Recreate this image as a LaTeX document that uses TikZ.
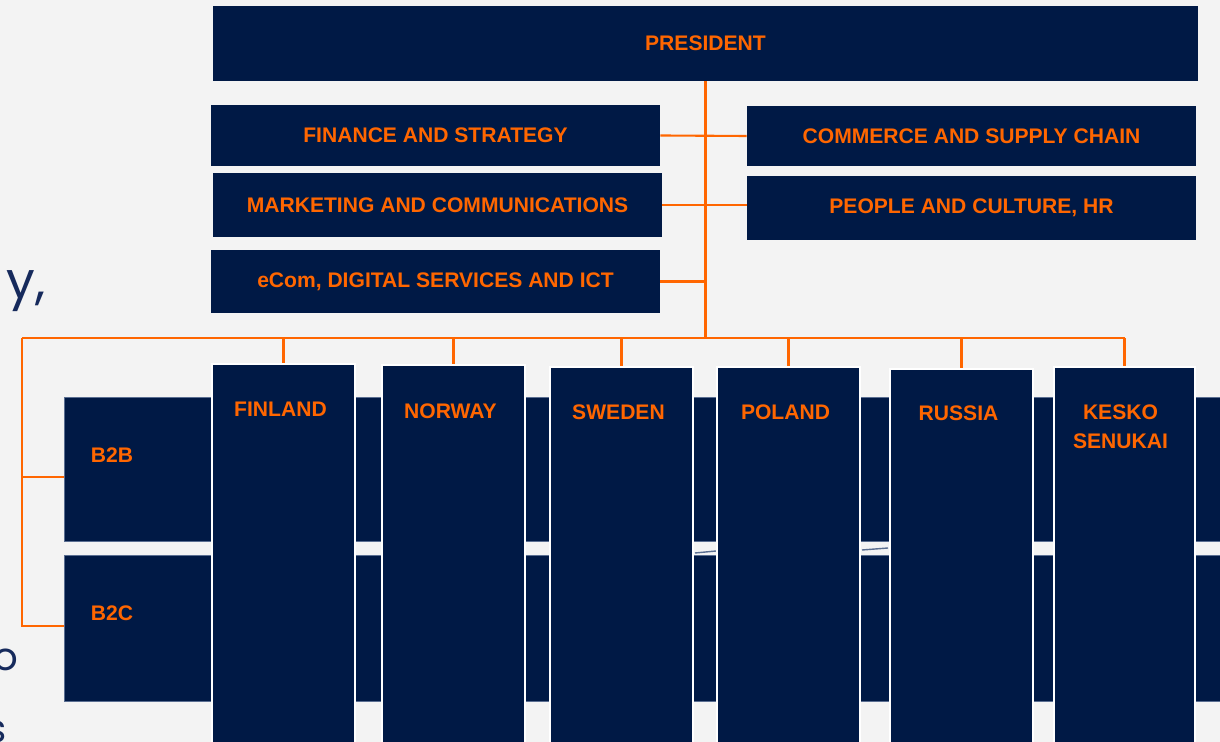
\documentclass[tikz,border=0pt]{standalone}
\usepackage{fontspec}
\setmainfont{Liberation Sans}
\newfontfamily\fragfont{Poppins}
\definecolor{navy}{RGB}{0,25,69}
\definecolor{kor}{RGB}{255,102,0}
\definecolor{bgray}{RGB}{243,243,243}
\definecolor{slate}{RGB}{22,42,92}
\definecolor{rowline}{RGB}{90,110,145}

\begin{document}
\begin{tikzpicture}[x=0.02cm,y=-0.02cm,
    box/.style={fill=navy,text=kor,font=\bfseries\fontsize{12}{17}\selectfont,inner sep=0pt,align=center},
    col/.style={fill=navy,draw=white,line width=1.1pt,anchor=north,minimum width=2.86cm,minimum height=8cm,inner sep=0pt},
    row/.style={fill=navy,draw=rowline,line width=0.4pt,anchor=north west,minimum width=23.6cm,inner sep=0pt},
    lbl/.style={text=kor,font=\bfseries\fontsize{12}{17}\selectfont,inner sep=0pt,align=center},
    link/.style={kor,line width=1.2pt},
    frag/.style={text=slate,font=\fragfont\fontsize{22}{26}\selectfont,inner sep=0pt,anchor=base east}]
    \fill[bgray] (0,0) rectangle (1220,742);
    \useasboundingbox (0,0) rectangle (1220,742);

    % slide text behind the chart
    \node[frag,font=\fragfont\fontsize{29}{33}\selectfont] (fy) at (46,299) {y,};
    \node[frag] (fo) at (19,670) {o};
    \node[frag] (fs) at (7,742) {s};

    % top of the chart
    \node[box,minimum width=19.7cm,minimum height=1.5cm] (pres) at (705.5,43.5) {PRESIDENT};
    \node[box,minimum width=8.98cm,minimum height=1.22cm] (fin) at (435.5,135.5) {FINANCE AND STRATEGY};
    \node[box,minimum width=8.98cm,minimum height=1.2cm] (com) at (971.5,136) {COMMERCE AND SUPPLY CHAIN};
    \node[box,minimum width=8.98cm,minimum height=1.28cm] (mkt) at (437.5,205) {MARKETING AND COMMUNICATIONS};
    \node[box,minimum width=8.98cm,minimum height=1.28cm] (ppl) at (971.5,208) {PEOPLE AND CULTURE, HR};
    \node[box,minimum width=8.98cm,minimum height=1.26cm] (ecom) at (435.5,281.5) {eCom, DIGITAL SERVICES AND ICT};

    % business rows
    \node[row,minimum height=2.88cm] (b2b) at (64,397) {};
    \node[row,minimum height=2.92cm] (b2c) at (64,555) {};
    \node[lbl] (b2btxt) at (112,455) {B2B};
    \node[lbl] (b2ctxt) at (112,613) {B2C};
    \draw[rowline,line width=0.8pt] (695,553) -- (716,551);
    \draw[rowline,line width=0.8pt] (862,550) -- (888,548);

    % countries
    \node[col] (fi) at (283.5,363) {};
    \node[col] (no) at (453.5,364) {};
    \node[col] (se) at (621.5,366) {};
    \node[col] (pl) at (788.5,366) {};
    \node[col] (ru) at (961.5,368) {};
    \node[col,minimum width=2.82cm] (ks) at (1124.5,366) {};
    \node[lbl,anchor=north] (fitxt) at ([shift={(-0.06cm,-0.78cm)}]fi.north) {FINLAND};
    \node[lbl,anchor=north] (notxt) at ([shift={(-0.06cm,-0.78cm)}]no.north) {NORWAY};
    \node[lbl,anchor=north] (setxt) at ([shift={(-0.06cm,-0.76cm)}]se.north) {SWEDEN};
    \node[lbl,anchor=north] (pltxt) at ([shift={(-0.06cm,-0.76cm)}]pl.north) {POLAND};
    \node[lbl,anchor=north] (rutxt) at ([shift={(-0.06cm,-0.74cm)}]ru.north) {RUSSIA};
    \node[lbl,anchor=north] (kstxt) at ([shift={(-0.08cm,-0.76cm)}]ks.north) {KESKO\\SENUKAI};

    % connectors
    \coordinate (busl) at (22,338);
    \draw[link] (pres.south) -- (pres.south |- busl);
    \draw[link] (fin.east) -- (com.west);
    \draw[link] (mkt.east) -- (mkt.east -| ppl.west);
    \draw[link] (ecom.east) -- (ecom.east -| pres.south);
    \draw[link] (busl) -- (ks.north |- busl);
    \draw[link] (fi.north) -- (fi.north |- busl);
    \draw[link] (no.north) -- (no.north |- busl);
    \draw[link] (se.north) -- (se.north |- busl);
    \draw[link] (pl.north) -- (pl.north |- busl);
    \draw[link] (ru.north) -- (ru.north |- busl);
    \draw[link] (ks.north) -- (ks.north |- busl);
    \draw[link] (busl) |- ([yshift=0.04cm]b2c.west);
    \draw[link] ([yshift=-0.16cm]b2b.west) -- ([yshift=-0.16cm]b2b.west -| busl);
\end{tikzpicture}
\end{document}
